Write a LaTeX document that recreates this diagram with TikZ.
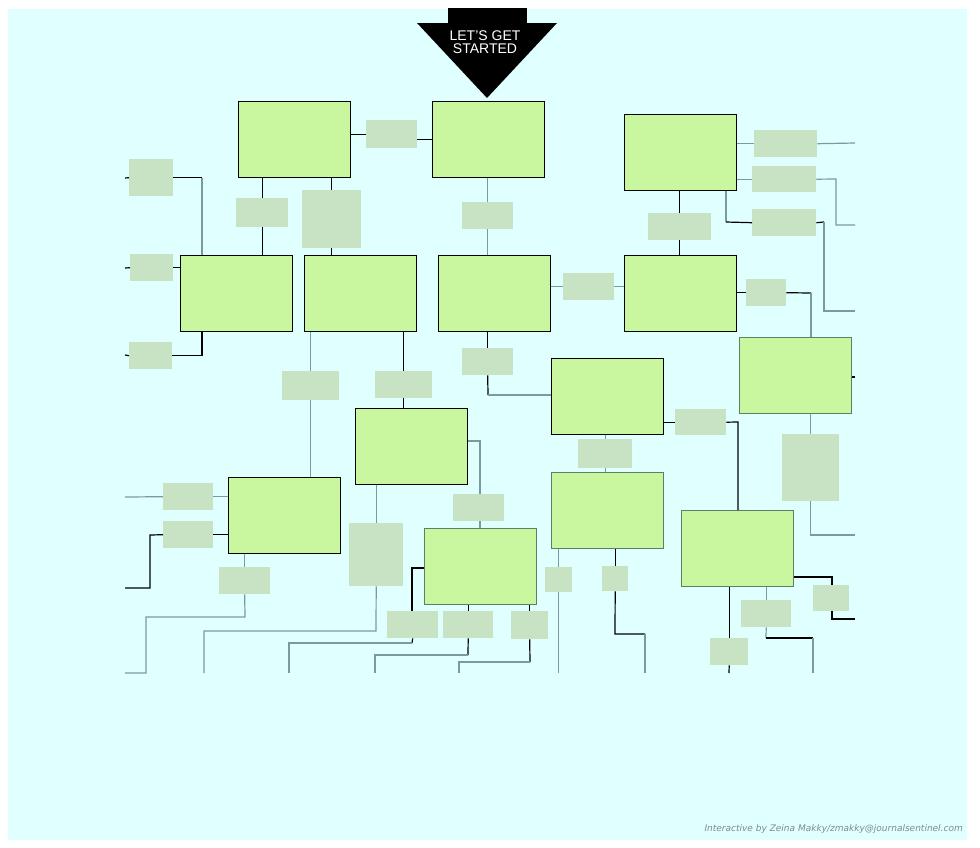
\documentclass[tikz,border=0pt]{standalone}
\usepackage{fontspec}
\newfontfamily\arialfont{Liberation Sans}
\newfontfamily\verdfont{DejaVu Sans}
\definecolor{bgcyan}{HTML}{E0FFFF}
\definecolor{boxgreen}{HTML}{C8F7A0}
\definecolor{lblgreen}{HTML}{C8E3C4}
\definecolor{linegray}{HTML}{7A9A9C}
\definecolor{edgegray}{HTML}{5E7E66}
\definecolor{creditgray}{HTML}{7F8C8C}

\begin{document}
\begin{tikzpicture}[x=1pt,y=-1pt,
big/.style={draw,line width=1.2pt,fill=boxgreen,anchor=north west,minimum width=112,minimum height=76,inner sep=0},
bigg/.style={big,draw=edgegray},
lbl/.style={fill=lblgreen,anchor=north west,inner sep=0},
k/.style={line width=1.2pt,black},
g/.style={line width=1.2pt,linegray}]
\useasboundingbox(0,0)rectangle(980,847);
\fill[bgcyan](8,9)rectangle(967,840);
\fill(448,8)rectangle(527,23);\fill(417,23)--(557,23)--(487,98)--cycle;
\node[font=\arialfont\fontsize{14}{13}\selectfont,text=white,align=center,inner sep=0](start)at(485,42){LET’S GET\\STARTED};
\node[big](b1)at(238,101){};\node[big](b2)at(432,101){};\node[big](b3)at(624,114){};
\node[big](b4)at(180,255){};\node[big](b5)at(304,255){};\node[big](b6)at(438,255){};\node[big](b7)at(624,255){};
\node[big](b8)at(551,358){};\node[bigg](b9)at(739,337){};\node[big](b10)at(355,408){};
\node[big](b11)at(228,477){};\node[bigg](b12)at(551,472){};\node[bigg](b13)at(424,528){};\node[bigg](b14)at(681,510){};
\node[lbl,minimum width=51,minimum height=28](l1)at(366,120){};
\node[lbl,minimum width=44,minimum height=37](l2)at(129,159){};
\node[lbl,minimum width=52,minimum height=29](l3)at(236,198){};
\node[lbl,minimum width=59,minimum height=58](l4)at(302,190){};
\node[lbl,minimum width=43,minimum height=27](l5)at(130,254){};
\node[lbl,minimum width=43,minimum height=27](l6)at(129,342){};
\node[lbl,minimum width=51,minimum height=27](l7)at(462,202){};
\node[lbl,minimum width=63,minimum height=27](l8)at(648,213){};
\node[lbl,minimum width=63,minimum height=27](l9)at(754,130){};
\node[lbl,minimum width=64,minimum height=26](l10)at(752,166){};
\node[lbl,minimum width=64,minimum height=27](l11)at(752,209){};
\node[lbl,minimum width=51,minimum height=27](l12)at(563,273){};
\node[lbl,minimum width=40,minimum height=27](l13)at(746,279){};
\node[lbl,minimum width=57,minimum height=67](l14)at(782,434){};
\node[lbl,minimum width=57,minimum height=29](l15)at(282,371){};
\node[lbl,minimum width=57,minimum height=27](l16)at(375,371){};
\node[lbl,minimum width=51,minimum height=27](l17)at(462,348){};
\node[lbl,minimum width=51,minimum height=26](l18)at(675,409){};
\node[lbl,minimum width=54,minimum height=29](l19)at(578,439){};
\node[lbl,minimum width=51,minimum height=27](l20)at(453,494){};
\node[lbl,minimum width=50,minimum height=27](l21)at(163,483){};
\node[lbl,minimum width=50,minimum height=27](l22)at(163,521){};
\node[lbl,minimum width=51,minimum height=27](l23)at(219,567){};
\node[lbl,minimum width=54,minimum height=63](l24)at(349,523){};
\node[lbl,minimum width=51,minimum height=27](l25)at(387,611){};
\node[lbl,minimum width=50,minimum height=27](l26)at(443,611){};
\node[lbl,minimum width=37,minimum height=28](l27)at(511,611){};
\node[lbl,minimum width=27,minimum height=25](l28)at(545,567){};
\node[lbl,minimum width=26,minimum height=25](l29)at(602,566){};
\node[lbl,minimum width=38,minimum height=27](l30)at(710,638){};
\node[lbl,minimum width=50,minimum height=27](l31)at(741,600){};
\node[lbl,minimum width=36,minimum height=26](l32)at(813,585){};
\coordinate(e1)at(125,178);\coordinate(e2)at(125,268);\coordinate(e3)at(125,355);\coordinate(e4)at(855,143);
\coordinate(e5)at(855,225);\coordinate(e6)at(855,311);\coordinate(e7)at(855,377);\coordinate(e8)at(855,535);
\coordinate(e9)at(125,497);\coordinate(e10)at(125,588);\coordinate(e11)at(125,673);\coordinate(e12)at(204,673);
\coordinate(e13)at(289,673);\coordinate(e14)at(375,673);\coordinate(e15)at(459,673);\coordinate(e16)at(559,673);
\coordinate(e17)at(645,673);\coordinate(e18)at(729,673);\coordinate(e19)at(813,673);\coordinate(e20)at(855,619);
\coordinate(j1)at(202,178);\coordinate(j2)at(836,179);\coordinate(j3)at(726,222);\coordinate(j4)at(824,222);
\coordinate(j5)at(811,293);\coordinate(j6)at(488,395);\coordinate(j7)at(738,422);\coordinate(j8)at(480,441);
\coordinate(j9)at(150,535);\coordinate(j10)at(245,617);\coordinate(j11)at(146,673);\coordinate(j12)at(376,631);
\coordinate(j13)at(412,568);\coordinate(j14)at(412,643);\coordinate(j15)at(468,655);\coordinate(j16)at(530,662);
\coordinate(j17)at(615,634);\coordinate(j18)at(645,634);\coordinate(j19)at(766,638);\coordinate(j20)at(813,638);
\coordinate(j21)at(832,577);
\draw[k](b1.east|-l1.west)--(l1.west);\draw[k](l1.east|-b2.west)--(b2.west);
\draw[k](b1.south-|l3.north)--(l3.north);\draw[k](l3.south)--(l3.south|-b4.north);
\draw[k](b1.south-|l4.north)--(l4.north);\draw[k](l4.south)--(l4.south|-b5.north);
\draw[k](e1)--(l2.west);\draw[k](l2.east)--(l2.east-|j1);\draw[g](j1)--(j1|-b4.north);
\draw[k](e2)--(l5.west);\draw[k](l5.east)--(l5.east-|b4.west);
\draw[k](e3)--(l6.west);\draw[k](l6.east)-|(j1|-b4.south);
\draw[g](b2.south-|l7.north)--(l7.north);\draw[g](l7.south)--(l7.south|-b6.north);
\draw[k](b3.south-|l8.north)--(l8.north);\draw[k](l8.south)--(l8.south|-b7.north);
\draw[g](b3.east|-l9.west)--(l9.west);\draw[g](l9.east)--(e4);
\draw[g](b3.east|-l10.west)--(l10.west);\draw[g](l10.east)--(j2)|-(e5);
\draw[g](b3.south-|j3)--(j3);\draw[k](j3)--(l11.west);\draw[k](l11.east)--(j4);\draw[g](j4)|-(e6);
\draw[g](b6.east|-l12.west)--(l12.west);\draw[g](l12.east)--(l12.east-|b7.west);
\draw[k](b7.east|-l13.west)--(l13.west);\draw[k](l13.east)--(j5);\draw[g](j5)--(j5|-b9.north);
\draw[k](b9.east|-e7)--(e7);
\draw[g](b9.south-|l14.north)--(l14.north);\draw[g](l14.south)|-(e8);
\draw[g](b5.south-|l15.north)--(l15.north);\draw[g](l15.south)--(l15.south|-b11.north);
\draw[k](b5.south-|l16.north)--(l16.north);\draw[k](l16.south)--(l16.south|-b10.north);
\draw[k](b6.south-|l17.north)--(l17.north);\draw[k](l17.south)--(j6);\draw[g](j6)--(j6-|b8.west);
\draw[k](b8.east|-l18.west)--(l18.west);\draw[k](l18.east)--(j7)--(j7|-b14.north);
\draw[g](b8.south-|l19.north)--(l19.north);\draw[g](l19.south)--(l19.south|-b12.north);
\draw[g](b10.east|-j8)--(j8)--(j8|-l20.north);\draw[g](l20.south-|j8)--(j8|-b13.north);
\draw[g](e9)--(l21.west);\draw[g](l21.east)--(l21.east-|b11.west);
\draw[k](e10)-|(j9)--(l22.west);\draw[k](l22.east)--(l22.east-|b11.west);
\draw[g](b11.south-|l23.north)--(l23.north);\draw[g](l23.south)--(j10)-|(j11)--(e11);
\draw[g](b10.south-|l24.north)--(l24.north);\draw[g](l24.south)--(j12)-|(e12);
\draw[k](b13.west|-j13)--(j13)--(j13|-l25.north);\draw[k](l25.south)--(j14);\draw[g](j14)-|(e13);
\draw[k](b13.south-|l26.north)--(l26.north);\draw[k](l26.south)--(j15);\draw[g](j15)-|(e14);
\draw[k](b13.south-|l27.north)--(l27.north);\draw[k](l27.south)--(j16);\draw[g](j16)-|(e15);
\draw[g](b12.south-|l28.north)--(l28.north);\draw[g](l28.south)--(l28.south|-e16);
\draw[k](b12.south-|l29.north)--(l29.north);\draw[k](l29.south)--(j17)--(j18);\draw[g](j18)--(e17);
\draw[k](b14.south-|l30.north)--(l30.north);\draw[k](l30.south)--(e18);
\draw[g](b14.south-|l31.north)--(l31.north);\draw[g](l31.south)--(j19);\draw[k](j19)--(j20);\draw[g](j20)--(e19);
\draw[k](b14.east|-j21)--(j21)--(j21|-l32.north);\draw[k](l32.south-|j21)|-(e20);
\node[font=\verdfont\itshape\fontsize{9}{10}\selectfont,text=creditgray,anchor=east,inner sep=0](credit)at(963,829){Interactive by Zeina Makky/zmakky@journalsentinel.com};
\end{tikzpicture}
\end{document}
